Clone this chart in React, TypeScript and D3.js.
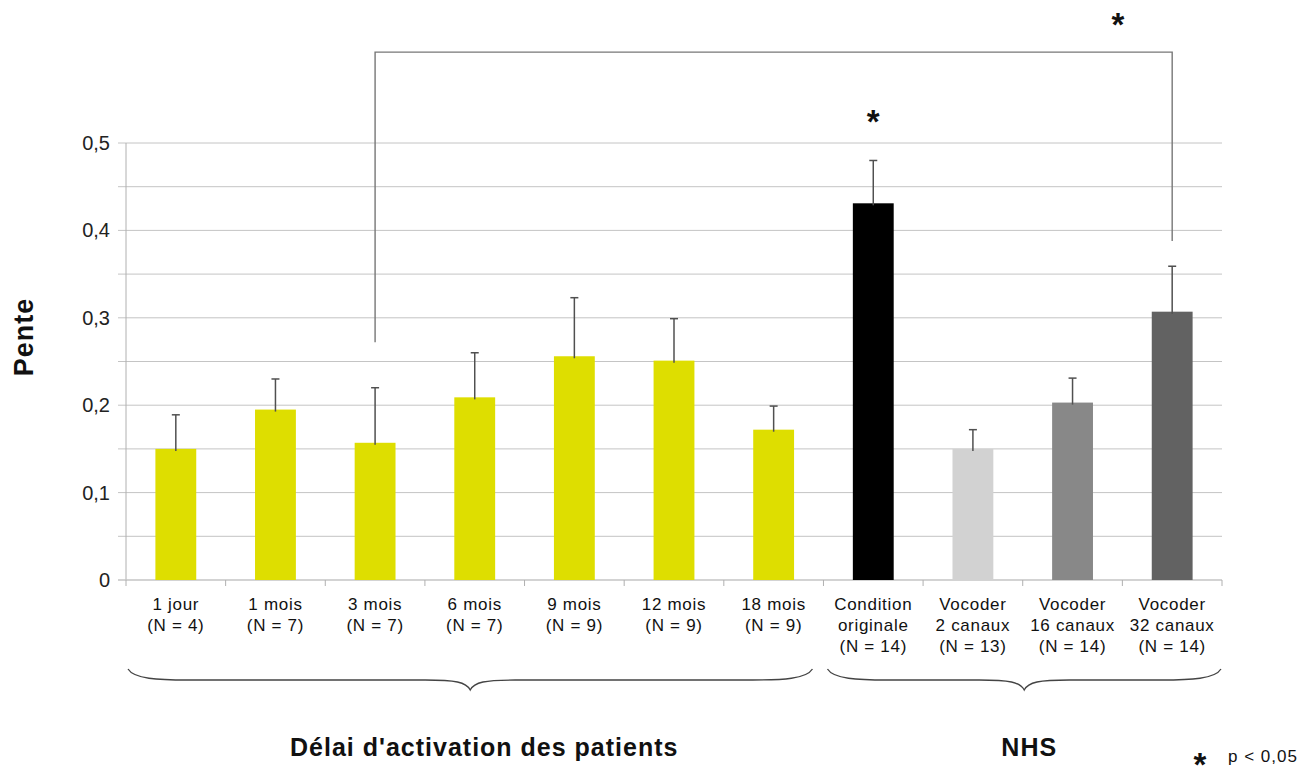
import * as d3 from 'd3';

// --- data ---
const categoryLines: string[][] = [
  ['1 jour', '(N = 4)'],
  ['1 mois', '(N = 7)'],
  ['3 mois', '(N = 7)'],
  ['6 mois', '(N = 7)'],
  ['9 mois', '(N = 9)'],
  ['12 mois', '(N = 9)'],
  ['18 mois', '(N = 9)'],
  ['Condition', 'originale', '(N = 14)'],
  ['Vocoder', '2 canaux', '(N = 13)'],
  ['Vocoder', '16 canaux', '(N = 14)'],
  ['Vocoder', '32 canaux', '(N = 14)'],
];
const pente = [0.15, 0.195, 0.157, 0.209, 0.256, 0.251, 0.172, 0.431, 0.15, 0.203, 0.307];
const errUp = [0.039, 0.035, 0.063, 0.051, 0.067, 0.048, 0.027, 0.049, 0.022, 0.028, 0.052];
const barColors = [
  '#dede00', '#dede00', '#dede00', '#dede00', '#dede00', '#dede00', '#dede00',
  '#000000', '#d2d2d2', '#888888', '#626262',
];
const yTicks = [0, 0.1, 0.2, 0.3, 0.4, 0.5];
const yTickLabels = ['0', '0,1', '0,2', '0,3', '0,4', '0,5'];
const gridValues = [0.05, 0.1, 0.15, 0.2, 0.25, 0.3, 0.35, 0.4, 0.45, 0.5];
const groupLabels = ["Délai d'activation des patients", 'NHS'];
const groupRanges = [[0, 6], [7, 10]];
// significance bracket: from category 2 to category 10
const bracketFrom = 2;
const bracketTo = 10;
const bracketEnds = [0.272, 0.388];
const bracketTop = 0.604;
const starOnBar = 7;

const W = 1315;
const H = 766;
const font = 'Liberation Sans, Arial, sans-serif';

function bracePath(x1: number, x2: number, y: number) {
  const mid = (x1 + x2) / 2;
  const yEnd = y - 11;
  const yTip = y + 10;
  return [
    `M${x1},${yEnd}`,
    `C${x1 + 6},${y - 1} ${x1 + 30},${y} ${x1 + 60},${y}`,
    `L${mid - 45},${y}`,
    `C${mid - 15},${y} ${mid - 4},${y + 2} ${mid},${yTip}`,
    `C${mid + 4},${y + 2} ${mid + 15},${y} ${mid + 45},${y}`,
    `L${x2 - 60},${y}`,
    `C${x2 - 30},${y} ${x2 - 6},${y - 1} ${x2},${yEnd}`,
  ].join(' ');
}

export default function App() {
  const left = 126;
  const right = 1222;
  const x = d3
    .scaleBand<number>()
    .domain(d3.range(pente.length))
    .range([left, right])
    .paddingInner(0)
    .paddingOuter(0);
  const y = d3.scaleLinear().domain([0, 0.5]).range([580, 143]);
  const bw = x.bandwidth() * 0.41;
  const cx = (i: number) => (x(i) ?? 0) + x.bandwidth() / 2;

  return (
    <svg
      width={W}
      height={H}
      style={{ position: 'absolute', left: 0, top: 0, background: '#fff' }}
      fontFamily={font}
    >
      {/* grid */}
      {gridValues.map((v) => (
        <line key={v} x1={left - 8} x2={right} y1={y(v)} y2={y(v)} stroke="#c4c4c4" strokeWidth={1} />
      ))}
      {/* y axis */}
      <line x1={left} x2={left} y1={y(0.5)} y2={y(0)} stroke="#b0b0b0" strokeWidth={1} />
      <line x1={left - 8} x2={right} y1={y(0)} y2={y(0)} stroke="#c4c4c4" strokeWidth={1.5} />
      {d3.range(pente.length + 1).map((i) => {
        const xx = i < pente.length ? (x(i) ?? 0) : right;
        return <line key={i} x1={xx} x2={xx} y1={y(0)} y2={y(0) + 6} stroke="#b0b0b0" />;
      })}
      {yTicks.map((v, i) => (
        <text key={v} x={110} y={y(v)} dy="0.35em" textAnchor="end" fontSize={20} fill="#222">
          {yTickLabels[i]}
        </text>
      ))}
      <text
        transform={`translate(33,337) rotate(-90)`}
        textAnchor="middle"
        fontSize={27}
        fontWeight="bold"
        letterSpacing={1}
        fill="#111"
      >
        Pente
      </text>

      {/* bars */}
      {pente.map((v, i) => (
        <rect key={i} x={cx(i) - bw / 2} y={y(v)} width={bw} height={y(0) - y(v)} fill={barColors[i]} />
      ))}
      {/* error bars */}
      {pente.map((v, i) => (
        <g key={i} stroke="#505050" strokeWidth={1.5}>
          <line x1={cx(i)} x2={cx(i)} y1={y(v) + 2} y2={y(v + errUp[i])} />
          <line x1={cx(i) - 4} x2={cx(i) + 4} y1={y(v + errUp[i])} y2={y(v + errUp[i])} />
        </g>
      ))}

      {/* category labels */}
      {categoryLines.map((lines, i) => (
        <text
          key={i}
          x={cx(i)}
          y={610}
          textAnchor="middle"
          fontSize={17}
          letterSpacing={0.7}
          fill="#111"
        >
          {lines.map((l, j) => (
            <tspan key={j} x={cx(i)} dy={j === 0 ? 0 : 21}>
              {l}
            </tspan>
          ))}
        </text>
      ))}

      {/* braces & group labels */}
      {groupRanges.map(([a, b], k) => {
        const x1 = (x(a) ?? 0) + 2;
        const x2 = (x(b) ?? 0) + x.bandwidth() - (k === 0 ? 11 : 1);
        const x1b = k === 1 ? x1 + 2 : x1;
        return (
          <g key={k}>
            <path d={bracePath(x1b, x2, 680)} fill="none" stroke="#444" strokeWidth={1.3} />
            <text
              x={(x1b + x2) / 2 + (k === 0 ? 14 : 5)}
              y={756}
              textAnchor="middle"
              fontSize={25}
              fontWeight="bold"
              letterSpacing={1}
              fill="#111"
            >
              {groupLabels[k]}
            </text>
          </g>
        );
      })}

      {/* significance bracket */}
      <path
        d={`M${cx(bracketFrom)},${y(bracketEnds[0])} V${y(bracketTop)} H${cx(bracketTo)} V${y(bracketEnds[1])}`}
        fill="none"
        stroke="#777"
        strokeWidth={1.4}
      />
      <text x={1118} y={36} textAnchor="middle" fontSize={33} fontWeight="bold" fill="#111">
        *
      </text>
      <text x={cx(starOnBar)} y={133} textAnchor="middle" fontSize={33} fontWeight="bold" fill="#111">
        *
      </text>

      {/* legend */}
      <text x={1200} y={776} textAnchor="middle" fontSize={33} fontWeight="bold" fill="#111">
        *
      </text>
      <text x={1228} y={762} fontSize={17} letterSpacing={1} fill="#111">
        p &lt; 0,05
      </text>
    </svg>
  );
}
